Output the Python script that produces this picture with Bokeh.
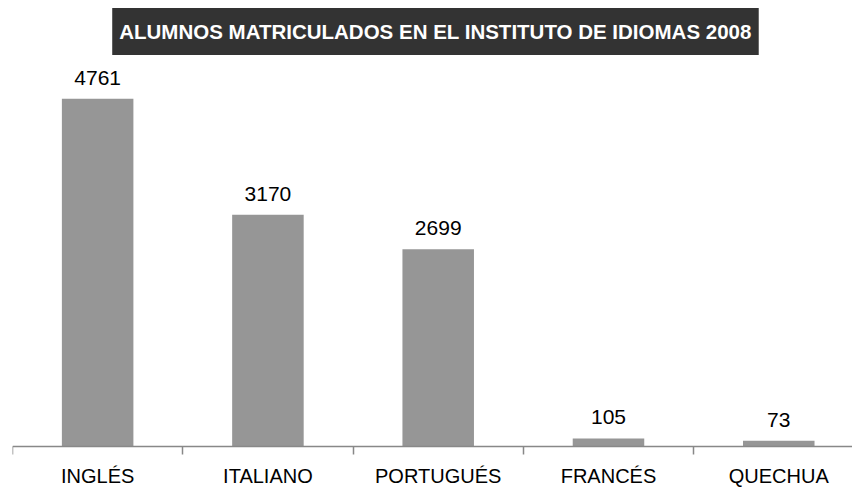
from bokeh.plotting import figure
from bokeh.models import Range1d, FixedTicker, ColumnDataSource, LabelSet, Label
from bokeh.core.properties import value
from bokeh.embed import file_html
from bokeh.resources import INLINE

categories = ["INGLÉS", "ITALIANO", "PORTUGUÉS", "FRANCÉS", "QUECHUA"]
values = [4761, 3170, 2699, 105, 73]
title_text = "ALUMNOS MATRICULADOS EN EL INSTITUTO DE IDIOMAS 2008"

FONT = "Liberation Sans"
centers = [i + 0.5 for i in range(len(categories))]
src = ColumnDataSource(dict(x=centers, top=values, label=[str(v) for v in values]))

p = figure(width=852, height=489, output_backend="svg", toolbar_location=None,
           x_range=Range1d(0, 4.933), y_range=Range1d(-596, 6109),
           min_border_left=12, min_border_right=0, min_border_top=0,
           min_border_bottom=0)
p.outline_line_color = None
p.xgrid.visible = False
p.ygrid.visible = False
p.yaxis.visible = False

p.vbar(x="x", top="top", bottom=0, width=0.42, source=src,
       fill_color="#969696", line_color=None)

value_labels = LabelSet(x="x", y="top", text="label", source=src, y_offset=14,
                        text_align="center", text_baseline="alphabetic",
                        text_font=value(FONT), text_font_size="21px",
                        text_color="#000000")
p.add_layout(value_labels)

ax = p.xaxis[0]
ax.fixed_location = 0
ax.ticker = FixedTicker(ticks=centers, minor_ticks=list(range(len(categories) + 1)))
ax.major_label_overrides = {c: lab for c, lab in zip(centers, categories)}
ax.major_tick_line_color = None
ax.major_tick_out = 0
ax.major_tick_in = 0
ax.minor_tick_in = 0
ax.minor_tick_out = 8
ax.minor_tick_line_color = "#888888"
ax.minor_tick_line_width = 1.5
ax.axis_line_color = "#888888"
ax.axis_line_width = 1.5
ax.major_label_standoff = 11
ax.major_label_text_font = FONT
ax.major_label_text_font_size = "20px"
ax.major_label_text_color = "#000000"

title = Label(x=2.484, y=5683, text=title_text, text_align="center",
              text_baseline="middle", text_font=FONT, text_font_size="20.5px",
              text_font_style="bold", text_color="#ffffff",
              background_fill_color="#333333", padding=(7, 12))
p.add_layout(title)

open("out.html", "w").write(file_html(p, INLINE))
